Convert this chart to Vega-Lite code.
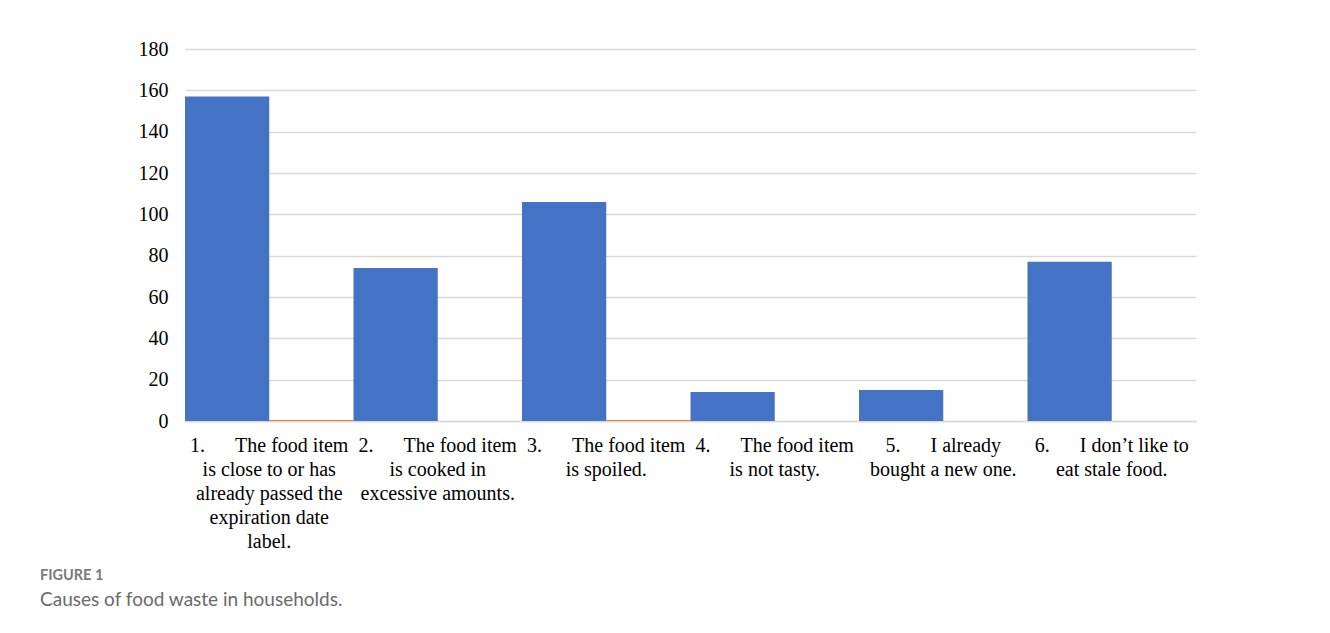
{
  "$schema": "https://vega.github.io/schema/vega-lite/v6.json",
  "width": 1011,
  "height": 372,
  "autosize": {"type": "none"},
  "padding": {"left": 185, "top": 49, "right": 134, "bottom": 212},
  "background": "white",
  "title": {
    "text": "FIGURE 1",
    "subtitle": "Causes of food waste in households.",
    "orient": "bottom",
    "anchor": "start",
    "frame": "group",
    "dx": -145,
    "offset": 18,
    "font": "Lato",
    "fontSize": 14.5,
    "fontWeight": "bold",
    "color": "#7a7a7a",
    "subtitleFont": "Lato",
    "subtitleFontSize": 19,
    "subtitleColor": "#6a6a6a",
    "subtitlePadding": 7
  },
  "data": {
    "values": [
      {"cause": "1.\u00a0\u00a0\u00a0\u00a0\u00a0\u00a0The food item|is close to or has|already passed the|expiration date|label.", "series": "Series1", "count": 157},
      {"cause": "1.\u00a0\u00a0\u00a0\u00a0\u00a0\u00a0The food item|is close to or has|already passed the|expiration date|label.", "series": "Series2", "count": 0.5},
      {"cause": "2.\u00a0\u00a0\u00a0\u00a0\u00a0\u00a0The food item|is cooked in|excessive amounts.", "series": "Series1", "count": 74},
      {"cause": "2.\u00a0\u00a0\u00a0\u00a0\u00a0\u00a0The food item|is cooked in|excessive amounts.", "series": "Series2", "count": 0},
      {"cause": "3.\u00a0\u00a0\u00a0\u00a0\u00a0\u00a0The food item|is spoiled.", "series": "Series1", "count": 106},
      {"cause": "3.\u00a0\u00a0\u00a0\u00a0\u00a0\u00a0The food item|is spoiled.", "series": "Series2", "count": 0.5},
      {"cause": "4.\u00a0\u00a0\u00a0\u00a0\u00a0\u00a0The food item|is not tasty.", "series": "Series1", "count": 14},
      {"cause": "4.\u00a0\u00a0\u00a0\u00a0\u00a0\u00a0The food item|is not tasty.", "series": "Series2", "count": 0},
      {"cause": "5.\u00a0\u00a0\u00a0\u00a0\u00a0\u00a0I already|bought a new one.", "series": "Series1", "count": 15},
      {"cause": "5.\u00a0\u00a0\u00a0\u00a0\u00a0\u00a0I already|bought a new one.", "series": "Series2", "count": 0},
      {"cause": "6.\u00a0\u00a0\u00a0\u00a0\u00a0\u00a0I don’t like to|eat stale food.", "series": "Series1", "count": 77},
      {"cause": "6.\u00a0\u00a0\u00a0\u00a0\u00a0\u00a0I don’t like to|eat stale food.", "series": "Series2", "count": 0}
    ]
  },
  "mark": {"type": "bar"},
  "encoding": {
    "x": {
      "field": "cause",
      "type": "nominal",
      "sort": null,
      "scale": {"paddingInner": 0, "paddingOuter": 0},
      "axis": {
        "title": null,
        "labelAngle": 0,
        "labelExpr": "split(datum.label, '|')",
        "labelFont": "Liberation Serif",
        "labelFontSize": 20,
        "labelLineHeight": 24,
        "labelColor": "#000000",
        "labelPadding": 14,
        "labelLimit": 0,
        "labelBaseline": "top",
        "ticks": false,
        "domainColor": "#d9d9d9",
        "domainWidth": 1.5,
        "grid": false
      }
    },
    "xOffset": {"field": "series", "type": "nominal", "scale": {"paddingInner": 0, "paddingOuter": 0}},
    "y": {
      "field": "count",
      "type": "quantitative",
      "scale": {"domain": [0, 180]},
      "axis": {
        "title": null,
        "values": [0, 20, 40, 60, 80, 100, 120, 140, 160, 180],
        "labelFont": "Liberation Serif",
        "labelFontSize": 20,
        "labelColor": "#000000",
        "labelPadding": 17,
        "ticks": false,
        "domain": false,
        "gridColor": "#d9d9d9",
        "gridWidth": 1.5
      }
    },
    "color": {
      "field": "series",
      "type": "nominal",
      "scale": {"domain": ["Series1", "Series2"], "range": ["#4472c4", "#ed7d31"]},
      "legend": null
    }
  },
  "config": {"view": {"stroke": null}}
}
